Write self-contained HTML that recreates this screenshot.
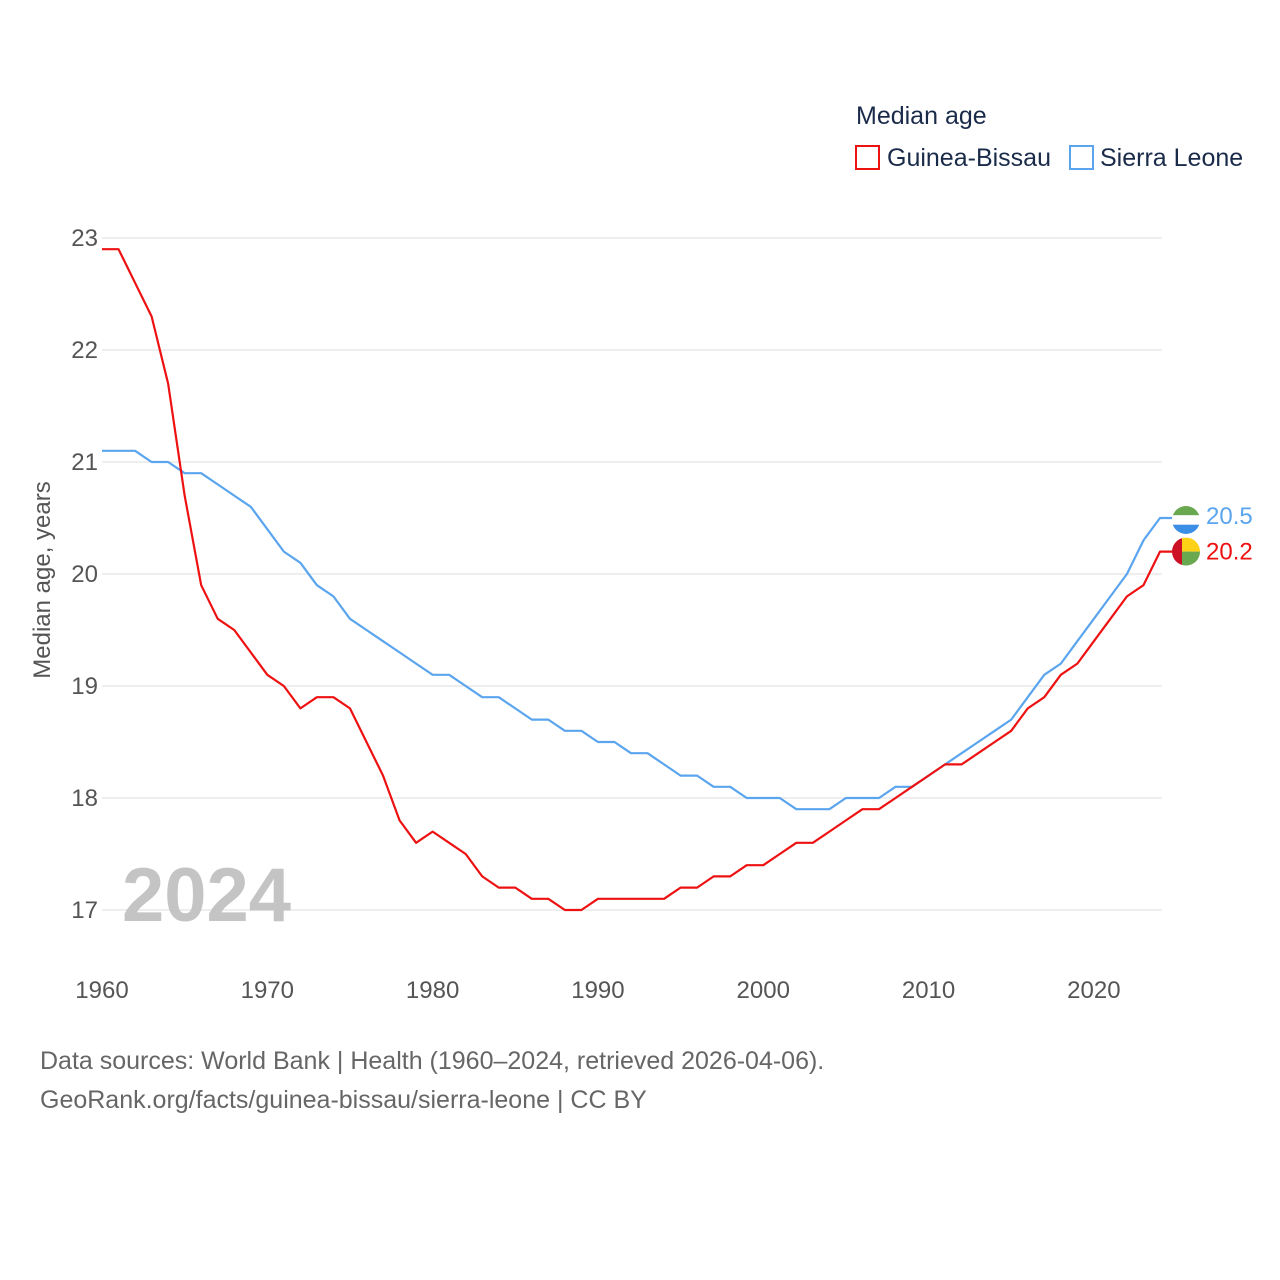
<!DOCTYPE html>
<html><head><meta charset="utf-8">
<style>
html,body{margin:0;padding:0;background:#fff;}
svg{display:block;font-family:"Liberation Sans",sans-serif;}
</style></head>
<body>
<svg id="chart" width="1280" height="1280" viewBox="0 0 1280 1280">
  <g>
    <text x="856" y="124" font-size="25" fill="#1a2b4a">Median age</text>
    <rect x="856" y="146" width="23" height="23" fill="none" stroke="#ee1111" stroke-width="2"/>
    <text x="887" y="166" font-size="25" fill="#1a2b4a">Guinea-Bissau</text>
    <rect x="1070" y="146" width="23" height="23" fill="none" stroke="#5aa5ee" stroke-width="2"/>
    <text x="1100" y="166" font-size="25" fill="#1a2b4a">Sierra Leone</text>
  </g>
  <g id="grid"></g>
  <g id="yticks"></g>
  <g id="xticks"></g>
  <text x="0" y="0" transform="translate(50,580) rotate(-90)" text-anchor="middle" font-size="24" fill="#555">Median age, years</text>
  <text x="122" y="921" font-size="76" font-weight="bold" fill="#c4c4c4">2024</text>
  <g id="series"></g>
  <text x="40" y="1069" font-size="25" fill="#666">Data sources: World Bank | Health (1960–2024, retrieved 2026-04-06).</text>
  <text x="40" y="1108" font-size="25" fill="#666">GeoRank.org/facts/guinea-bissau/sierra-leone | CC BY</text>
</svg>
<script>
const years = [];
for (let y = 1960; y <= 2024; y++) years.push(y);
const guineaBissau = [22.9,22.9,22.6,22.3,21.7,20.7,19.9,19.6,19.5,19.3,19.1,19.0,18.8,18.9,18.9,18.8,18.5,18.2,17.8,17.6,17.7,17.6,17.5,17.3,17.2,17.2,17.1,17.1,17.0,17.0,17.1,17.1,17.1,17.1,17.1,17.2,17.2,17.3,17.3,17.4,17.4,17.5,17.6,17.6,17.7,17.8,17.9,17.9,18.0,18.1,18.2,18.3,18.3,18.4,18.5,18.6,18.8,18.9,19.1,19.2,19.4,19.6,19.8,19.9,20.2];
const sierraLeone = [21.1,21.1,21.1,21.0,21.0,20.9,20.9,20.8,20.7,20.6,20.4,20.2,20.1,19.9,19.8,19.6,19.5,19.4,19.3,19.2,19.1,19.1,19.0,18.9,18.9,18.8,18.7,18.7,18.6,18.6,18.5,18.5,18.4,18.4,18.3,18.2,18.2,18.1,18.1,18.0,18.0,18.0,17.9,17.9,17.9,18.0,18.0,18.0,18.1,18.1,18.2,18.3,18.4,18.5,18.6,18.7,18.9,19.1,19.2,19.4,19.6,19.8,20.0,20.3,20.5];
const yTicks = [17,18,19,20,21,22,23];
const xTicks = [1960,1970,1980,1990,2000,2010,2020];

const NS = "http://www.w3.org/2000/svg";
const x = v => 102 + (v - 1960) * (1058 / 64);
const y = v => 910 - (v - 17) * 112;
function mk(tag, attrs, parent, txt) {
  const e = document.createElementNS(NS, tag);
  for (const k in attrs) e.setAttribute(k, attrs[k]);
  if (txt !== undefined) e.textContent = txt;
  parent.appendChild(e);
  return e;
}
const grid = document.getElementById('grid');
const yt = document.getElementById('yticks');
const xt = document.getElementById('xticks');
const ser = document.getElementById('series');
yTicks.forEach(t => {
  const l = mk('line', {x1: 102, x2: 1162, y1: y(t), y2: y(t), stroke: '#e8e8e8', 'stroke-width': 1.5}, grid);
  
  
  const tx = mk('text', {x: 98, y: y(t) + 8, 'text-anchor': 'end', 'font-size': 24, fill: '#555'}, yt, String(t));
  
  
});
xTicks.forEach(t => {
  const tx = mk('text', {x: x(t), y: 998, 'text-anchor': 'middle', 'font-size': 24, fill: '#555'}, xt, String(t));
  
  
});
function line(vals, color, name) {
  let d = vals.map((v, i) => (i ? 'L' : 'M') + x(years[i]).toFixed(2) + ',' + y(v).toFixed(2)).join(' ');
  d += ' H1174';
  const p = mk('path', {d: d, fill: 'none', stroke: color, 'stroke-width': 2.2, 'stroke-linejoin': 'round'}, ser);
  
  
}
line(sierraLeone, '#5aa5ee', 'sierra-leone');
line(guineaBissau, '#ee1111', 'guinea-bissau');

const last = years.length - 1;
const ySL = y(sierraLeone[last]), yGB = y(guineaBissau[last]);
const cx = 1186;
const g1 = mk('g', {}, ser);


mk('clipPath', {id: 'c1'}, g1);
document.getElementById('c1').appendChild(document.createElementNS(NS, 'circle'));
const c1 = document.querySelector('#c1 circle');
c1.setAttribute('cx', cx); c1.setAttribute('cy', ySL + 2); c1.setAttribute('r', 14);
mk('rect', {x: cx - 14, y: ySL + 2 - 14, width: 28, height: 9.3, fill: '#6aa84f', 'clip-path': 'url(#c1)'}, g1);
mk('rect', {x: cx - 14, y: ySL + 2 - 4.7, width: 28, height: 9.3, fill: '#fff', 'clip-path': 'url(#c1)'}, g1);
mk('rect', {x: cx - 14, y: ySL + 2 + 4.7, width: 28, height: 9.3, fill: '#3a8ee6', 'clip-path': 'url(#c1)'}, g1);
const g2 = mk('g', {}, ser);


mk('clipPath', {id: 'c2'}, g2);
document.getElementById('c2').appendChild(document.createElementNS(NS, 'circle'));
const c2 = document.querySelector('#c2 circle');
c2.setAttribute('cx', cx); c2.setAttribute('cy', yGB); c2.setAttribute('r', 14);
mk('rect', {x: cx - 14, y: yGB - 14, width: 10, height: 28, fill: '#cc1126', 'clip-path': 'url(#c2)'}, g2);
mk('rect', {x: cx - 4, y: yGB - 14, width: 18, height: 14, fill: '#fcd116', 'clip-path': 'url(#c2)'}, g2);
mk('rect', {x: cx - 4, y: yGB, width: 18, height: 14, fill: '#6aa84f', 'clip-path': 'url(#c2)'}, g2);
const v1 = mk('text', {x: 1206, y: ySL + 6, 'font-size': 24, fill: '#5aa5ee'}, ser, sierraLeone[last].toFixed(1));


const v2 = mk('text', {x: 1206, y: yGB + 8, 'font-size': 24, fill: '#ee1111'}, ser, guineaBissau[last].toFixed(1));


</script>
</body></html>
